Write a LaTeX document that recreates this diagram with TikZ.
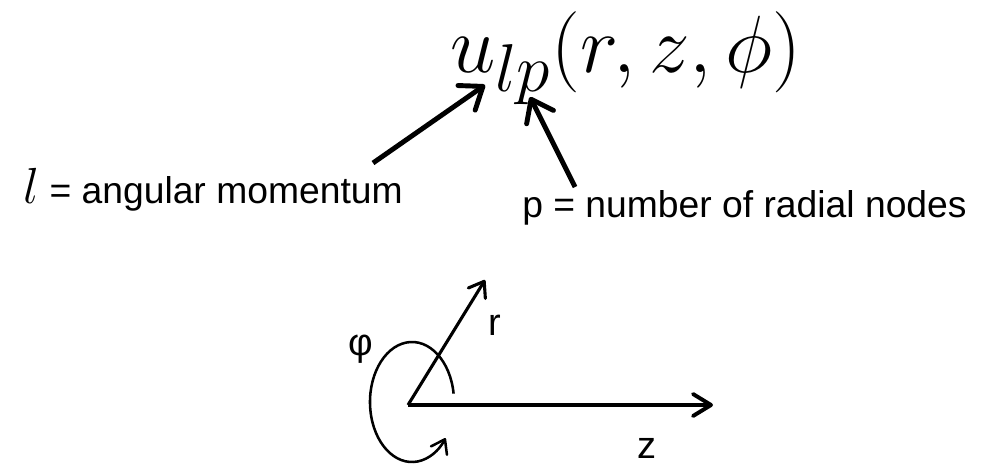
\documentclass[tikz,border=0pt]{standalone}
\usepackage{graphicx}
\usepackage{fontspec}
\newfontfamily\arialfont{Liberation Sans}
\usetikzlibrary{arrows.meta,positioning}
\tikzset{
myFormula/.style={
	inner sep=0pt, font=\Huge
}
, myLabel/.style={
	inner sep=0pt, font=\arialfont\fontsize{26.5}{30}\selectfont
}
, myAxisLabel/.style={
	inner sep=0pt, font=\arialfont\fontsize{27}{30}\selectfont
}
% arrows
, myPointer/.style={-{Straight Barb[length=5mm,width=7.5mm,round]},line width=3.5pt}
, myAxis/.style={-{Straight Barb[length=4.5mm,width=5.5mm,round]},line width=2.8pt}
, myRadial/.style={-{Straight Barb[length=3.5mm,width=5mm,round]},line width=2.2pt}
, myTurn/.style={-{Straight Barb[length=3.2mm,width=4.5mm,round]},line width=1.8pt}
}
\begin{document}
\begin{tikzpicture}[x=0.025cm,y=0.025cm]
	\useasboundingbox (0,0) rectangle (988,470);
	% formula
	\node[myFormula, anchor=base west] (U) at (450,398) {\scalebox{2.32}{$u_{lp}(r,z,\phi)$}};
	% labels
	\node[myLabel, anchor=base west] (L) at (23,267) {\scalebox{1.45}{\Huge$l$} = angular momentum};
	\node[myLabel, anchor=base west] (P) at (522,253) {p = number of radial nodes};
	% pointers
	\coordinate (Ltail) at (373,307);
	\coordinate (Lhead) at (485,385);
	\coordinate (Ptail) at (575,283);
	\coordinate (Phead) at (530,373);
	\draw [myPointer] (Ltail) -- (Lhead);
	\draw [myPointer] (Ptail) -- (Phead);

	% axes
	\coordinate (O) at (408,65);
	\coordinate (Zend) at (713,65);
	\coordinate (Rend) at (485,190);
	\coordinate (C) at (412,68);
	\draw [myAxis] (O) -- (Zend);
	\draw [myRadial] (O) -- (Rend);
	\draw [myTurn] ([shift={(8:1.05cm and 1.5cm)}]C) arc[start angle=8, end angle=323, x radius=1.05cm, y radius=1.5cm];
	\node[myAxisLabel, anchor=base west] (Rlabel) at (488,135) {r};
	\node[myAxisLabel, anchor=base west] (Zlabel) at (637,12) {z};
	\node[myAxisLabel, anchor=base west] (Philabel) at (348,115) {φ};
\end{tikzpicture}
\end{document}
